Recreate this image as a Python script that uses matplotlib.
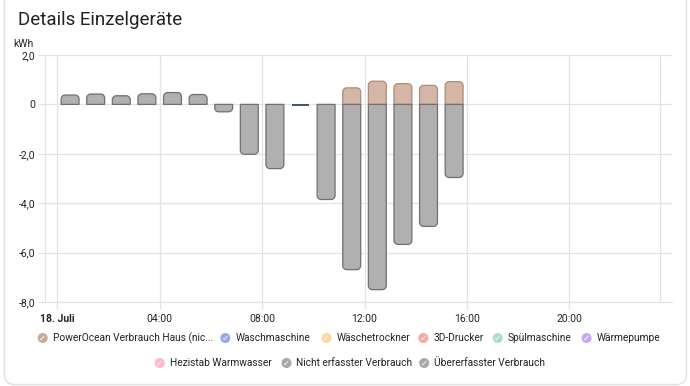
import numpy as np
import matplotlib
matplotlib.use("Agg")
import matplotlib.pyplot as plt
from matplotlib.path import Path
from matplotlib.patches import PathPatch, FancyBboxPatch, Circle

plt.rcParams['font.family'] = ['Roboto', 'DejaVu Sans']

# Stundenwerte (kWh), Balken jeweils mittig in der Stunde
hours = np.arange(16)
power_ocean = [0, 0, 0, 0, 0, 0, 0, 0, 0, 0, 0, 0.67, 0.94, 0.84, 0.77, 0.92]
nicht_erfasst = [0.38, 0.42, 0.35, 0.43, 0.48, 0.40, 0, 0, 0, 0, 0, 0, 0, 0, 0, 0]
ueber_erfasst = [0, 0, 0, 0, 0, 0, -0.30, -2.02, -2.60, 0, -3.85, -6.69, -7.50, -5.67, -4.94, -2.96]
waschmaschine = [0, 0, 0, 0, 0, 0, 0, 0, 0, -0.02, 0, 0, 0, 0, 0, 0]

x_ticks = [0, 4, 8, 12, 16, 20]
x_labels = ['18. Juli', '04:00', '08:00', '12:00', '16:00', '20:00']
y_ticks = [2, 0, -2, -4, -6, -8]
y_labels = ['2,0', '0', '-2,0', '-4,0', '-6,0', '-8,0']

legend_names = ['PowerOcean Verbrauch Haus (nic...', 'Waschmaschine', 'Wäschetrockner',
                '3D-Drucker', 'Spülmaschine', 'Wärmepumpe',
                'Hezistab Warmwasser', 'Nicht erfasster Verbrauch', 'Übererfasster Verbrauch']
legend_colors = ['#c9a999', '#94a9e6', '#fcd89a', '#f8aaa2', '#a9dccf', '#c9a8f2',
                 '#f9b9d3', '#a9a9a9', '#a9a9a9']

W, H = 690, 386
fig = plt.figure(figsize=(W / 100, H / 100), dpi=100)
fig.patch.set_facecolor('white')

# Hintergrund-Ebene in Pixelkoordinaten (Karte, Titel, Legende)
bg = fig.add_axes([0, 0, 1, 1], zorder=-5)
bg.set_xlim(0, W)
bg.set_ylim(H, 0)
bg.axis('off')
bg.add_patch(FancyBboxPatch((4.5, -30), 682, 414.5, boxstyle='round,pad=0,rounding_size=10',
                            fc='white', ec='#e0e0e0', lw=1))
bg.text(18, 20, 'Details Einzelgeräte', fontsize=13.5, color='#212121', va='center', ha='left')

ax = fig.add_axes([45 / W, 1 - 302 / H, (672 - 45) / W, (302 - 55) / H])
ax.set_xlim(-0.48, 24.01)
ax.set_ylim(-8, 2)
fig.canvas.draw()

# Pixel je Dateneinheit, für abgerundete Ecken
p0 = ax.transData.transform((0, 0))
p1 = ax.transData.transform((1, 1))
px_x = p1[0] - p0[0]
px_y = p1[1] - p0[1]


def rounded_bar(xc, base, end, width, fc, ec, r=4):
    k = 0.5523
    rx = r / px_x
    ry = min(r / px_y, abs(end - base))
    s = 1 if end > base else -1
    xl, xr = xc - width / 2, xc + width / 2
    yc = end - s * ry
    verts = [(xl, base), (xl, yc),
             (xl, yc + s * ry * k), (xl + rx * (1 - k), end), (xl + rx, end),
             (xr - rx, end),
             (xr - rx * (1 - k), end), (xr, yc + s * ry * k), (xr, yc),
             (xr, base), (xl, base)]
    codes = [Path.MOVETO, Path.LINETO,
             Path.CURVE4, Path.CURVE4, Path.CURVE4,
             Path.LINETO,
             Path.CURVE4, Path.CURVE4, Path.CURVE4,
             Path.LINETO, Path.CLOSEPOLY]
    ax.add_patch(PathPatch(Path(verts, codes), fc=fc, ec=ec, lw=0.9, zorder=3))


bar_w = 0.70
for h in hours:
    xc = h + 0.5
    if nicht_erfasst[h] > 0:
        rounded_bar(xc, 0, nicht_erfasst[h], bar_w, '#b0b0b0', '#707070')
    if power_ocean[h] > 0:
        rounded_bar(xc, 0, power_ocean[h], bar_w, '#d4b6a7', '#b08b78')
    if ueber_erfasst[h] < 0:
        rounded_bar(xc, 0, ueber_erfasst[h], bar_w, '#b0b0b0', '#707070')
    if waschmaschine[h] != 0:
        ax.plot([xc - bar_w / 2, xc + bar_w / 2], [waschmaschine[h]] * 2,
                color='#22375e', lw=1.2, zorder=4, solid_capstyle='butt')

grid_c = '#e3e3e3'
for yv in y_ticks:
    ax.axhline(yv, color=grid_c, lw=0.9, zorder=1)
for xv in x_ticks + [23.54]:
    ax.axvline(xv, color=grid_c, lw=0.9, zorder=1)

for sp in ['top', 'right']:
    ax.spines[sp].set_visible(False)
for sp in ['left', 'bottom']:
    ax.spines[sp].set_color(grid_c)
    ax.spines[sp].set_linewidth(0.9)

ax.set_yticks(y_ticks)
ax.set_yticklabels(y_labels)
ax.set_xticks(x_ticks)
ax.set_xticklabels(x_labels)
ax.tick_params(axis='both', colors=grid_c, labelcolor='#222222', labelsize=7.5,
               length=5, width=0.9)
ax.tick_params(axis='y', pad=2)
ax.tick_params(axis='x', pad=4)
ax.get_xticklabels()[0].set_fontweight('bold')
ax.text(-0.05, 1.025, 'kWh', transform=ax.transAxes, fontsize=7.5, color='#222222',
        ha='left', va='bottom')

# Legende mit Haken-Kreisen
leg_pos = [(42.7, 338), (225.3, 338), (326.5, 338), (423.3, 338), (497.7, 338), (586.6, 338),
           (159.7, 363), (286.5, 363), (424.2, 363)]
for (cx, cy), name, col in zip(leg_pos, legend_names, legend_colors):
    bg.add_patch(Circle((cx, cy), 5.0, fc=col, ec='none', zorder=2))
    bg.text(cx, cy + 0.3, '✓', fontsize=6, color='white', ha='center', va='center',
            family=['DejaVu Sans'], fontweight='bold', zorder=3)
    bg.text(cx + 10, cy, name, fontsize=7.3, color='#222222', ha='left', va='center')

fig.savefig('out.png', dpi=100, facecolor='white')
